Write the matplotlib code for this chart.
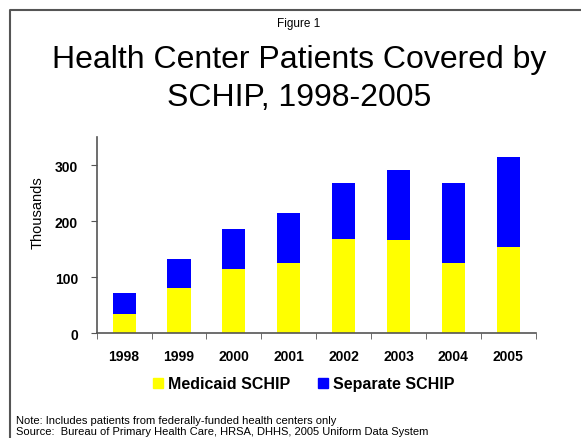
import matplotlib.pyplot as plt
import matplotlib.patches as mpatches
from matplotlib.lines import Line2D
import numpy as np

plt.rcParams['font.family'] = ['Liberation Sans', 'DejaVu Sans']

# data (thousands)
years = ['1998', '1999', '2000', '2001', '2002', '2003', '2004', '2005']
medicaid = [34, 81, 115, 125, 168, 166, 125, 154]
separate = [38, 52, 71, 89, 100, 125, 143, 160]

yellow = '#FFFF00'
blue = '#0000FF'
gray = '#555555'

fig = plt.figure(figsize=(5.81, 4.39), dpi=100)

# outer frame
frame = Line2D([10/581, 10/581, 1.0], [0.0, 1 - 10.5/439, 1 - 10.5/439],
               transform=fig.transFigure, color=gray, lw=1.5)
fig.add_artist(frame)

ax = fig.add_axes([0.1664, 0.2385, 0.7556, 0.4471])
x = np.arange(len(years))
ax.bar(x, medicaid, width=0.42, color=yellow)
ax.bar(x, separate, width=0.42, bottom=medicaid, color=blue)

ax.set_xlim(-0.5, len(years) - 0.5)
ax.set_ylim(0, 350)
ax.set_yticks([0, 100, 200, 300])
ax.set_yticklabels(['0', '100', '200', '300'], fontweight='bold', fontsize=10)
ax.set_xticks(x)
ax.set_xticklabels(years, fontweight='bold', fontsize=10)
ax.tick_params(axis='x', length=0, pad=11)
ax.set_xticks(np.arange(len(years) + 1) - 0.5, minor=True)
ax.tick_params(axis='x', which='minor', length=4, color=gray, direction='out')
ax.tick_params(axis='y', length=4.5, color=gray, pad=9)
for s in ['top', 'right']:
    ax.spines[s].set_visible(False)
for s in ['left', 'bottom']:
    ax.spines[s].set_color(gray)
    ax.spines[s].set_linewidth(1.2)
ax.set_ylabel('Thousands', fontsize=10.5)
ax.yaxis.set_label_coords(-52/439, 0.618)

cx = 299/581
fig.text(cx, 1 - 24/439, 'Figure 1', ha='center', va='center', fontsize=8.5)
fig.text(cx, 1 - 79/439, 'Health Center Patients Covered by\nSCHIP, 1998-2005',
         ha='center', va='center', fontsize=23, linespacing=1.33)

handles = [mpatches.Patch(color=yellow, label='Medicaid SCHIP'),
           mpatches.Patch(color=blue, label='Separate SCHIP')]
fig.legend(handles=handles, loc='center', bbox_to_anchor=(304/581, 1 - 385/439),
           ncol=2, frameon=False, prop={'weight': 'bold', 'size': 11.5},
           handlelength=0.63, handleheight=0.63, handletextpad=0.3, columnspacing=1.75)

fig.text(16/581, 1 - 421/439, 'Note: Includes patients from federally-funded health centers only',
         ha='left', va='center', fontsize=8)
fig.text(16/581, 1 - 432/439, 'Source:  Bureau of Primary Health Care, HRSA, DHHS, 2005 Uniform Data System',
         ha='left', va='center', fontsize=8)

fig.savefig('out.png', dpi=100)
